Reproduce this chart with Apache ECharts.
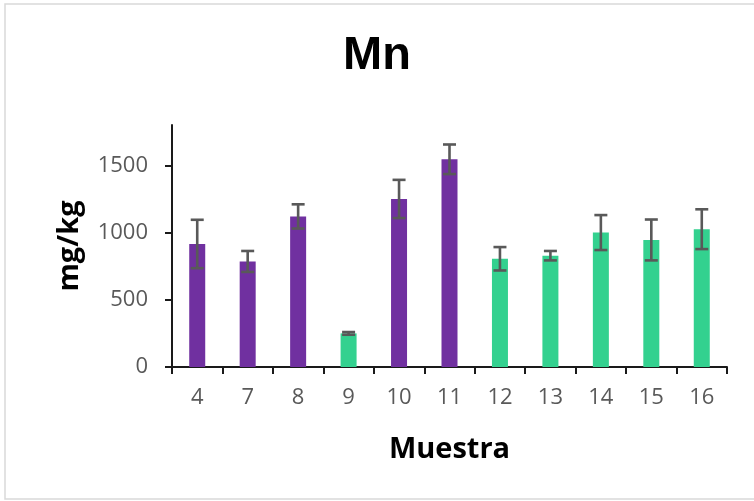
<!DOCTYPE html>
<html>
<head>
<meta charset="utf-8">
<script src="https://cdn.jsdelivr.net/npm/echarts@6/dist/echarts.min.js"></script>
<style>
html,body{margin:0;padding:0;background:#fff;}
#chart{width:754px;height:501px;}
</style>
</head>
<body>
<div id="chart"></div>
<script>
const categories = ['4','7','8','9','10','11','12','13','14','15','16'];
const values = [915, 785, 1120, 250, 1250, 1545, 805, 828, 1000, 945, 1025];
const errors = [180, 78, 90, 10, 142, 110, 87, 35, 130, 152, 148];
const groups = ['P','P','P','G','P','P','G','G','G','G','G'];
const yTicks = [0, 500, 1000, 1500];
const groupColors = {P: '#7030A0', G: '#33D18F'};

const chart = echarts.init(document.getElementById('chart'), null, {renderer: 'canvas'});

const barData = values.map((v, i) => ({value: v, itemStyle: {color: groupColors[groups[i]]}}));
const errData = values.map((v, i) => [i, v, errors[i]]);

const option = {
  animation: false,
  backgroundColor: '#ffffff',
  graphic: [{
    type: 'rect',
    shape: {x: 5, y: 4, width: 800, height: 495},
    style: {fill: 'none', stroke: '#d9d9d9', lineWidth: 1.5},
    silent: true
  }],
  title: {
    text: 'Mn',
    left: 'center',
    top: 28,
    textStyle: {fontFamily: 'Liberation Sans', fontWeight: 'bold', fontSize: 47, color: '#000'}
  },
  grid: {left: 172, right: 27, top: 125, bottom: 134, containLabel: false},
  xAxis: {
    type: 'category',
    data: categories,
    name: 'Muestra',
    nameLocation: 'middle',
    nameGap: 68,
    nameTextStyle: {fontFamily: 'Open Sans', fontWeight: 'bold', fontSize: 29, color: '#000'},
    axisLine: {lineStyle: {color: '#1a1a1a', width: 2}},
    axisTick: {show: true, length: 7, alignWithLabel: false, lineStyle: {color: '#1a1a1a', width: 2}},
    axisLabel: {fontFamily: 'Open Sans', fontSize: 22, color: '#595959', margin: 20}
  },
  yAxis: {
    type: 'value',
    min: 0,
    max: 1800,
    name: 'mg/kg',
    nameLocation: 'middle',
    nameRotate: 90,
    nameGap: 88,
    nameTextStyle: {fontFamily: 'Open Sans', fontWeight: 'bold', fontSize: 29, color: '#000'},
    splitLine: {show: false},
    axisLine: {show: true, lineStyle: {color: '#1a1a1a', width: 2}},
    axisTick: {show: true, length: 7, customValues: yTicks, lineStyle: {color: '#1a1a1a', width: 2}},
    axisLabel: {fontFamily: 'Open Sans', fontSize: 22, color: '#595959', margin: 24, customValues: yTicks,
      formatter: function (v) { return String(v); }}
  },
  series: [
    {
      type: 'bar',
      data: barData,
      barWidth: 16,
      z: 2
    },
    {
      type: 'custom',
      data: errData,
      z: 5,
      renderItem: function (params, api) {
        const idx = api.value(0);
        const v = api.value(1);
        const e = api.value(2);
        const top = api.coord([idx, v + e]);
        const bot = api.coord([idx, v - e]);
        const hw = 6.5;
        const style = {stroke: '#595959', lineWidth: 2.6};
        return {
          type: 'group',
          children: [
            {type: 'line', shape: {x1: top[0], y1: top[1], x2: bot[0], y2: bot[1]}, style: style},
            {type: 'line', shape: {x1: top[0] - hw, y1: top[1], x2: top[0] + hw, y2: top[1]}, style: style},
            {type: 'line', shape: {x1: bot[0] - hw, y1: bot[1], x2: bot[0] + hw, y2: bot[1]}, style: style}
          ]
        };
      }
    }
  ]
};
chart.setOption(option);
</script>
</body>
</html>
